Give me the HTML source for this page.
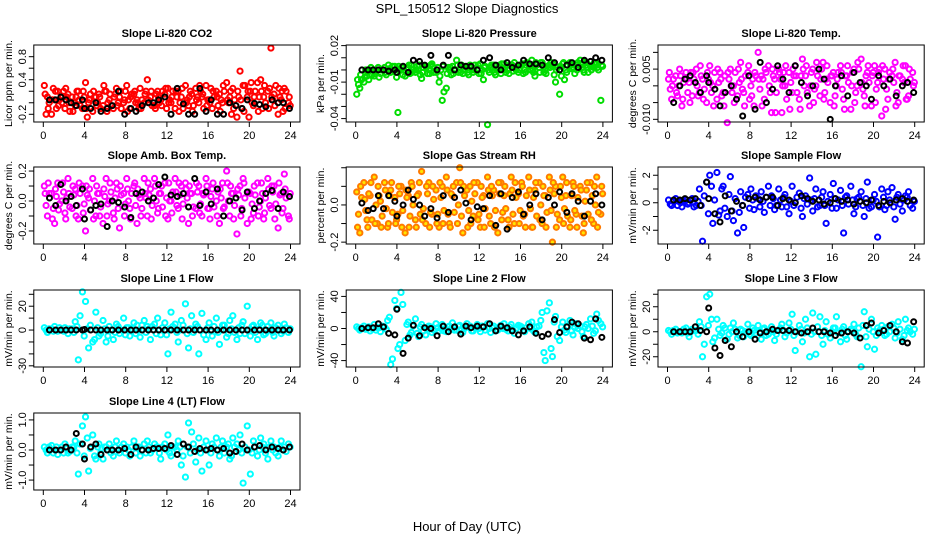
<!DOCTYPE html>
<html><head><meta charset="utf-8">
<style>
html,body{margin:0;padding:0;background:#fff;}
svg{display:block;font-family:"Liberation Sans",Arial,sans-serif;}
</style></head>
<body>
<svg id="chart" width="936" height="540" viewBox="0 0 936 540">
<text x="467" y="13" text-anchor="middle" font-size="13">SPL_150512  Slope Diagnostics</text>
<text x="467" y="531" text-anchor="middle" font-size="13">Hour of Day (UTC)</text>
</svg>
<script>
const hours = [0.1,0.4,0.8,1.1,1.4,1.8,2.1,2.4,2.8,3.1,3.4,3.8,4.1,4.4,4.8,5.1,5.4,5.8,6.1,6.4,6.8,7.1,7.4,7.8,8.1,8.4,8.8,9.1,9.4,9.8,10.1,10.4,10.8,11.1,11.4,11.8,12.1,12.4,12.8,13.1,13.4,13.8,14.1,14.4,14.8,15.1,15.4,15.8,16.1,16.4,16.8,17.1,17.4,17.8,18.1,18.4,18.8,19.1,19.4,19.8,20.1,20.4,20.8,21.1,21.4,21.8,22.1,22.4,22.8,23.1,23.4,23.8];
const blackHours = [0.6,1.2,1.7,2.2,2.7,3.2,3.8,4.0,4.6,5.1,5.6,6.2,6.7,7.3,7.9,8.5,9.0,9.6,10.2,10.7,11.2,11.8,12.4,13.0,13.6,14.1,14.7,15.2,15.8,16.3,16.9,17.5,18.1,18.7,19.3,19.8,20.5,21.0,21.6,22.2,22.8,23.3,23.9];
const xTicks = [0,4,8,12,16,20,24];

const co2A = [0.3,0.1,-0.2,0.05,0.2,0.0,-0.1,0.15,0.1,-0.05,0.2,-0.1,0.35,0.0,-0.15,0.1,0.15,-0.05,0.2,0.05,-0.1,0.25,0.1,0.0,0.3,-0.1,0.15,0.05,0.25,0.0,0.4,0.1,-0.05,0.2,0.05,0.15,0.25,0.0,-0.1,0.2,0.1,0.3,-0.05,0.15,0.25,0.0,0.1,0.3,0.05,-0.1,0.2,0.15,0.0,0.35,0.1,0.25,-0.25,0.55,0.3,0.1,0.2,-0.05,0.35,0.4,0.1,0.2,0.95,0.15,-0.2,0.05,0.25,0.0];
const co2B = [-0.2,0.0,0.25,-0.1,0.05,0.2,0.1,-0.15,0.0,0.2,-0.05,0.1,-0.25,0.15,0.1,0.0,-0.1,0.2,0.0,-0.05,0.15,0.0,-0.1,0.2,0.05,0.15,0.0,-0.1,0.05,0.2,0.0,-0.05,0.15,0.0,0.2,-0.1,0.05,0.2,0.1,0.0,-0.1,0.05,0.2,-0.05,0.1,0.2,-0.1,0.05,0.25,0.1,-0.05,0.05,0.2,0.0,-0.2,0.05,0.1,-0.1,0.3,-0.25,0.0,0.2,0.1,-0.1,0.0,0.25,0.05,0.3,0.1,-0.15,0.2,-0.05];
const co2C = [0.15,-0.1,0.05,0.2,-0.05,0.1,0.25,0.0,-0.15,0.1,0.05,0.2,-0.1,0.05,0.2,-0.05,0.1,0.3,-0.15,0.15,0.1,-0.05,0.2,0.05,-0.15,0.1,0.2,0.0,-0.1,0.15,0.05,0.2,-0.1,0.1,-0.05,0.25,0.0,0.1,0.2,-0.15,0.25,0.0,0.1,-0.15,0.05,0.3,0.15,-0.05,0.0,0.2,0.1,-0.15,0.3,0.05,0.2,-0.1,0.2,0.05,-0.15,0.2,0.35,0.1,-0.15,0.2,0.3,-0.1,0.1,-0.05,0.25,0.2,-0.1,0.1];
const co2K = [0.05,0.05,0.1,0.05,0.0,-0.05,0.05,-0.1,-0.1,0.0,-0.15,-0.1,-0.05,0.2,-0.2,-0.1,-0.15,-0.05,0.0,0.0,0.05,0.1,-0.2,0.25,-0.02,-0.2,-0.2,0.25,-0.15,0.05,-0.2,-0.2,0.0,-0.05,-0.1,0.05,-0.01,-0.03,-0.07,0.05,0.0,0.0,-0.1];

const presA = [-0.02,-0.015,-0.01,-0.005,0.0,-0.005,0.0,-0.003,0.002,0.0,-0.002,0.003,-0.035,0.0,-0.005,0.002,0.004,-0.002,0.0,-0.007,0.003,0.0,0.005,-0.002,-0.01,-0.025,-0.015,0.0,0.003,0.008,0.0,-0.003,0.002,0.004,-0.002,0.0,0.005,-0.008,-0.045,0.002,0.004,0.0,-0.003,0.005,0.0,0.003,0.006,-0.002,0.004,0.0,0.005,0.008,-0.005,0.002,0.006,0.0,0.004,0.003,-0.01,-0.02,0.005,0.0,0.006,0.002,0.004,0.008,0.0,0.006,0.003,0.002,0.005,-0.025];
const presB = [-0.012,-0.008,0.0,-0.008,-0.004,0.0,-0.006,0.0,-0.004,0.001,0.003,-0.006,0.001,-0.004,0.002,-0.003,0.0,0.003,-0.004,0.002,-0.003,0.004,-0.002,0.002,0.0,-0.018,0.002,-0.004,0.0,-0.002,0.004,0.0,-0.004,0.0,0.004,-0.003,0.0,0.003,-0.002,0.0,-0.004,0.004,0.001,-0.002,0.004,-0.001,0.0,0.004,-0.003,0.006,0.0,-0.002,0.004,0.006,-0.002,0.003,0.006,-0.004,0.002,-0.005,-0.008,0.004,0.001,-0.003,0.006,0.002,0.007,-0.002,0.004,0.006,0.0,0.003];
const presC = [-0.008,-0.004,-0.006,-0.002,0.002,-0.003,0.002,0.0,-0.002,0.004,0.0,-0.002,0.003,0.002,-0.002,0.004,-0.002,0.0,0.004,-0.002,0.002,-0.003,0.003,0.0,-0.005,0.003,-0.003,0.002,-0.003,0.004,-0.002,0.003,-0.002,0.002,0.0,0.004,-0.003,0.002,0.0,0.004,-0.002,0.002,0.005,0.0,-0.003,0.004,0.002,0.0,0.005,-0.002,0.003,0.0,0.006,-0.002,0.004,-0.003,0.002,0.005,0.0,0.003,0.006,-0.002,0.004,0.002,0.0,0.005,-0.002,0.004,0.0,0.006,0.002,0.004];
const presK = [0.0,0.0,0.0,0.0,0.0,-0.001,0.0,-0.002,0.003,-0.002,0.008,0.007,0.004,0.012,0.0,0.004,0.012,0.0,0.004,0.003,0.003,0.0,0.008,0.01,0.004,0.0,0.006,0.002,0.004,0.008,0.005,0.005,0.004,0.01,0.006,0.0,0.004,0.006,0.002,0.008,0.007,0.01,0.008];

const tempA = [0.002,-0.004,0.003,0.0,-0.006,0.004,0.001,-0.003,0.005,-0.002,0.002,-0.005,0.006,0.0,-0.004,0.004,-0.002,-0.011,0.005,0.0,-0.003,0.007,-0.002,0.004,0.0,-0.006,0.01,0.003,-0.004,0.006,-0.008,0.002,0.005,-0.008,0.0,0.004,-0.002,0.006,-0.004,0.008,0.003,-0.006,0.005,0.0,-0.003,0.007,0.002,-0.005,0.004,0.0,0.006,-0.004,0.003,-0.007,0.005,0.0,0.008,-0.003,0.004,-0.006,0.006,0.001,-0.009,0.005,-0.004,0.003,0.007,-0.005,0.002,0.006,-0.003,0.004];
const tempB = [-0.001,0.002,-0.003,0.003,0.001,-0.002,0.004,0.002,-0.003,0.003,-0.001,0.002,-0.002,0.004,0.001,-0.003,0.003,0.002,-0.002,0.004,0.001,-0.001,0.003,-0.004,0.002,0.003,-0.001,0.002,0.004,-0.002,0.003,-0.002,0.002,0.004,-0.004,0.001,0.003,-0.002,0.003,0.0,-0.002,0.004,-0.001,0.003,0.005,-0.002,0.001,0.003,-0.003,0.004,-0.001,0.003,0.001,0.004,-0.002,0.005,-0.001,0.003,0.001,0.004,-0.001,0.005,0.002,-0.001,0.004,0.001,-0.002,0.003,0.001,-0.004,0.002,0.001];
const tempC = [0.004,0.0,-0.002,0.005,-0.004,0.002,-0.005,0.004,0.0,0.006,-0.004,0.004,0.001,-0.006,0.005,0.002,-0.006,0.004,0.0,-0.005,0.005,0.002,-0.006,0.006,-0.003,0.004,0.002,-0.006,0.005,0.0,0.005,-0.008,0.004,0.0,0.006,-0.007,0.005,0.003,-0.007,0.005,0.006,0.0,-0.005,0.007,0.002,-0.004,0.006,0.003,-0.006,0.002,0.004,-0.007,0.006,0.0,-0.005,0.007,0.001,-0.006,0.006,0.003,-0.005,0.004,0.006,-0.007,0.002,0.005,-0.006,0.003,0.006,-0.004,0.005,0.0];
const tempK = [-0.005,0.0,0.002,0.003,0.001,-0.002,0.003,0.001,-0.001,-0.006,-0.002,0.0,-0.004,-0.009,0.003,-0.007,0.007,-0.005,-0.001,0.006,0.002,-0.002,0.006,0.001,-0.003,0.0,0.005,0.002,-0.01,0.0,0.003,-0.003,0.004,0.001,0.0,-0.004,0.003,0.0,0.002,-0.003,0.0,0.001,-0.002];

const ambA = [0.1,-0.1,0.05,-0.15,0.12,0.0,-0.08,0.15,-0.05,0.08,-0.12,0.1,-0.2,0.02,0.15,-0.1,0.05,-0.15,0.15,0.0,-0.08,0.12,-0.18,0.05,0.15,-0.05,0.1,-0.15,0.02,0.15,-0.1,0.08,0.15,-0.08,0.05,0.12,-0.12,0.0,0.15,-0.05,0.1,0.12,-0.15,0.05,-0.05,0.1,-0.1,0.15,-0.05,0.08,0.0,-0.15,0.12,0.2,-0.1,0.05,-0.22,0.1,0.15,-0.15,0.05,-0.08,0.12,0.0,-0.12,0.15,-0.05,0.1,-0.18,0.05,0.18,-0.1];
const ambB = [-0.03,0.05,-0.05,0.03,-0.02,0.06,0.02,-0.04,0.04,-0.03,0.05,-0.02,0.04,-0.06,0.0,0.05,-0.04,0.03,-0.02,0.06,0.02,-0.05,0.04,-0.02,0.0,0.05,-0.03,0.04,-0.05,0.02,0.04,-0.03,0.0,0.05,-0.04,0.02,0.0,0.06,-0.03,0.04,-0.02,0.02,0.05,-0.04,0.06,-0.02,0.04,-0.05,0.03,-0.04,0.06,0.02,-0.04,0.0,0.05,-0.03,0.04,-0.05,0.02,0.06,-0.02,0.04,-0.04,0.05,0.02,-0.03,0.06,-0.02,0.04,-0.05,0.02,0.05];
const ambC = [0.05,0.12,-0.12,0.08,-0.06,0.12,-0.12,0.05,0.1,-0.1,0.12,-0.08,0.1,0.08,-0.12,0.1,-0.1,0.08,-0.1,0.12,-0.12,0.08,0.1,-0.1,0.08,-0.12,0.12,0.08,-0.1,0.05,0.12,-0.12,0.1,-0.05,0.1,-0.1,0.12,-0.08,0.06,0.12,-0.12,0.08,0.1,-0.1,0.12,-0.08,0.05,0.1,-0.12,0.12,-0.1,0.08,-0.05,0.12,0.1,-0.12,0.08,-0.1,0.12,0.06,-0.12,0.1,-0.1,0.12,-0.08,0.08,0.1,-0.12,0.12,-0.08,0.08,-0.12];
const ambK = [0.02,-0.03,0.11,0.0,0.03,-0.03,0.08,-0.12,-0.06,-0.03,-0.02,-0.17,0.0,-0.01,-0.04,-0.11,0.05,0.06,0.0,0.02,0.11,0.16,0.04,0.03,0.05,-0.04,0.15,-0.03,0.06,-0.02,0.08,-0.1,0.0,0.02,-0.06,0.06,-0.05,0.0,0.05,0.07,-0.05,0.06,0.03];

const rhA = [0.07,-0.15,0.12,-0.08,0.05,0.15,-0.1,0.02,0.12,-0.12,0.08,0.04,-0.05,0.1,-0.15,0.05,0.12,-0.08,0.06,0.18,-0.1,0.12,-0.05,0.08,-0.12,0.1,0.15,-0.1,0.05,0.12,0.2,-0.15,0.08,0.1,-0.06,0.12,-0.12,0.05,0.15,-0.1,0.08,-0.15,0.12,0.05,-0.08,0.15,-0.1,0.06,0.12,-0.05,0.15,-0.12,0.08,0.12,-0.1,0.05,0.15,-0.2,0.1,-0.08,0.15,0.05,-0.12,0.12,-0.05,0.1,-0.15,0.08,0.12,-0.1,0.15,-0.05];
const rhB = [-0.05,0.04,-0.03,0.06,-0.08,0.0,0.05,-0.06,-0.02,0.05,-0.04,-0.08,0.06,-0.03,0.04,-0.06,0.0,0.05,-0.05,-0.02,0.06,-0.04,0.03,-0.05,0.04,-0.03,-0.05,0.06,-0.04,0.0,-0.06,0.05,-0.03,0.02,0.06,-0.05,0.04,-0.02,-0.06,0.05,-0.03,0.06,-0.04,-0.02,0.06,-0.05,0.04,-0.03,-0.06,0.05,-0.02,0.04,-0.06,0.0,0.05,-0.04,-0.03,0.06,-0.05,0.04,-0.02,-0.06,0.05,-0.03,0.04,-0.06,0.02,-0.05,0.05,0.0,-0.04,0.06];
const rhC = [-0.12,0.1,0.03,-0.12,0.12,-0.1,0.1,-0.12,0.08,-0.1,0.12,-0.1,0.1,-0.12,0.08,-0.12,0.1,-0.12,0.12,-0.08,0.1,-0.12,0.1,-0.1,0.12,-0.1,0.08,-0.12,0.1,-0.1,0.12,0.1,-0.12,-0.1,0.12,-0.08,0.1,-0.12,0.08,0.1,-0.12,0.12,-0.08,0.1,-0.12,0.08,0.12,-0.1,0.1,-0.12,0.08,-0.12,0.12,-0.08,0.1,-0.12,0.08,0.12,-0.12,0.1,-0.1,0.12,-0.08,0.1,-0.12,0.08,-0.1,0.12,-0.08,0.1,-0.12,0.1];
const rhK = [0.01,-0.03,-0.02,0.05,-0.02,0.05,0.02,-0.06,0.0,0.08,0.03,0.0,-0.06,-0.02,-0.07,0.05,-0.04,0.04,0.08,0.01,-0.08,-0.01,-0.02,0.05,-0.11,0.06,-0.13,0.04,0.07,-0.05,0.0,0.06,-0.08,0.04,0.0,0.07,-0.04,0.06,0.02,-0.06,0.02,0.06,0.0];

const sflA = [0.2,-0.2,0.3,0.1,-0.3,0.2,0.0,0.3,-0.2,1.0,-2.8,1.5,2.0,-1.5,2.2,-0.6,1.2,-1.0,1.9,-1.3,-2.2,0.8,-1.8,0.6,1.0,-0.5,0.3,0.8,-0.7,1.2,0.5,-0.5,1.0,-0.3,0.6,-0.8,1.2,0.0,0.7,-1.0,0.5,1.8,-0.6,1.0,-0.2,0.8,-1.5,0.6,1.4,-0.4,0.9,-2.2,0.5,1.2,-0.8,0.3,0.8,-1.0,1.5,-0.3,0.6,-2.5,1.0,-0.5,0.8,1.1,-1.2,0.6,-0.6,0.5,0.8,-0.4];
const sflB = [-0.1,0.1,-0.2,0.0,0.1,-0.1,0.2,-0.3,0.1,-0.2,0.5,-0.8,1.2,0.2,-0.9,1.0,-0.4,0.6,-0.6,0.3,-0.7,-0.2,0.4,-0.4,0.2,0.5,-0.3,0.1,0.4,-0.2,0.3,-0.2,0.2,0.4,-0.3,0.1,-0.2,0.4,-0.4,0.3,-0.1,0.2,0.3,-0.3,0.4,-0.2,0.1,-0.4,0.3,0.2,-0.2,0.4,-0.1,0.2,-0.3,0.4,-0.2,0.3,-0.4,0.2,0.1,-0.3,0.4,-0.2,0.2,-0.3,0.4,-0.1,0.2,0.4,-0.2,0.1];
const sflK = [0.2,0.2,0.3,0.2,0.3,-0.2,1.5,0.3,-0.8,-1.4,0.5,-0.6,0.1,-0.2,0.3,0.4,0.2,0.4,0.4,-0.2,0.3,0.2,0.0,0.5,0.3,0.1,0.2,-0.1,0.0,0.3,0.1,0.2,-0.1,0.1,0.0,0.2,-0.2,0.1,0.0,0.2,0.3,0.1,0.2];

const l1A = [2,-2,1,3,-1,0,2,-3,1,7,-25,32,24,-15,-10,15,-5,8,-10,3,-8,5,-3,10,2,-5,6,4,-6,8,3,-8,5,10,-4,6,-20,15,5,-10,8,22,-15,12,5,-20,14,-8,6,-5,10,-12,4,-6,8,12,-8,-3,7,20,-5,4,-8,6,-4,3,6,-5,4,-3,5,-2];
const l1B = [0,1,-1,0,2,-1,0,1,-2,3,12,-5,1,4,-8,2,-3,1,-5,0,-2,3,0,-4,2,1,-3,0,4,-2,1,3,-3,0,2,-4,1,3,-2,0,4,-3,1,-2,3,0,-4,2,-1,3,-2,0,4,-3,1,-2,2,4,-3,0,3,-2,1,4,-3,0,-2,2,0,-1,2,1];
const l1K = [0,0,0,0,0,0,0,0.5,0,0,0,0,0,0,0,0,0,0,0,0,0,0,0,0,0,0,0,0,0,0,0,0,0,0,0,0,0,0,0,0,0,0,0];

const l2A = [2,-2,3,0,-3,5,1,-4,2,10,-45,35,-25,45,-15,8,-5,12,-10,5,-8,3,-5,6,-3,5,-4,3,7,-2,4,-5,6,3,-3,5,-4,2,6,-5,3,-2,4,6,-3,5,-6,4,2,-4,6,8,-5,3,20,-40,32,-35,15,-15,8,-5,10,-8,6,3,-10,5,12,-6,18,6];
const l2B = [0,1,-1,2,0,-2,1,3,-1,14,-38,25,-20,30,5,-8,3,-6,2,-3,0,2,-2,1,0,-3,2,0,-2,3,-1,0,2,-3,1,0,3,-2,0,1,-3,2,0,-1,2,-2,0,3,-2,1,0,-3,2,10,-30,22,-25,8,-10,2,-2,3,-3,1,0,-4,2,0,3,-3,10,2];
const l2K = [0,1,1,6,2,-6,-8,24,-31,-12,4,-9,1,0,-9,3,-4,2,-7,3,1,3,2,6,-3,3,1,-3,-8,-3,2,-6,-10,-7,11,-5,2,8,6,-12,-14,12,-11];

const l3A = [1,-2,2,0,-1,3,-4,2,1,8,-20,28,30,-8,10,-3,5,-6,3,7,-5,2,-4,6,-3,1,5,-6,3,-2,4,-7,1,6,-4,7,14,-15,5,-8,10,-20,15,-18,12,-10,8,-5,3,12,-8,4,-6,2,6,-4,-28,16,-12,10,-14,3,5,-3,4,6,-5,8,-6,10,3,-2];
const l3B = [0,1,-1,0,2,-1,0,1,-2,4,-10,5,10,-5,2,-1,3,-2,0,2,-3,1,0,-2,3,-1,0,2,-3,1,0,-2,3,1,-1,2,-3,0,2,-1,3,-2,0,4,-3,1,-2,0,3,-1,2,-3,0,1,-2,3,5,-4,2,0,-3,1,2,-2,0,3,-1,2,-3,1,0,2];
const l3K = [0,0,0,0,4,1,0,19,-13,-19,-7,-12,0,-4,0,-6,-1,0,2,1,1,1,0,-1,0,3,0,0,-1,-3,-1,0,-1,-5,5,7,-1,1,5,0,-8,-9,8];

const l4A = [0.1,-0.1,0.15,0.0,-0.15,0.1,0.2,-0.1,0.1,0.3,-0.8,0.8,1.1,-0.7,0.5,-0.3,0.2,-0.3,0.1,0.2,-0.2,0.3,-0.1,0.2,0.1,-0.2,0.3,0.1,-0.2,0.2,0.3,-0.1,0.2,0.1,-0.3,0.2,0.5,-0.2,0.1,0.3,-0.5,-0.9,0.9,0.6,-0.4,0.4,-0.7,0.3,-0.5,0.2,0.4,-0.2,0.3,0.1,-0.3,0.4,0.2,0.5,-1.1,0.8,-0.8,0.3,-0.2,0.4,0.2,-0.3,0.3,0.1,-0.2,0.3,0.1,0.2];
const l4B = [0.0,0.1,-0.1,0.1,0.0,-0.1,0.1,-0.05,0.1,-0.1,0.2,-0.2,0.4,0.05,-0.2,0.1,-0.1,0.1,0.0,-0.1,0.1,0.0,0.1,-0.1,0.0,0.1,-0.1,0.1,0.0,-0.1,0.1,0.0,0.1,-0.1,0.1,0.0,-0.1,0.1,0.0,0.1,-0.2,0.1,-0.1,0.2,0.0,-0.1,0.1,0.0,-0.1,0.1,0.0,0.1,-0.1,0.2,-0.2,0.1,0.0,-0.1,0.1,0.0,-0.1,0.1,0.0,0.1,-0.1,0.1,0.0,-0.1,0.1,0.0,-0.05,0.1];
const l4K = [0.0,0.0,0.0,0.1,0.0,0.55,0.2,-0.3,0.1,0.2,-0.15,0.0,0.0,0.0,0.05,-0.15,0.1,0.0,0.0,0.05,0.05,0.05,0.15,-0.15,0.2,0.1,-0.05,0.05,0.0,0.05,0.0,0.05,-0.1,-0.05,0.2,0.0,0.1,0.15,0.0,0.1,0.05,0.0,0.1];

const panelTitles = ["Slope Li-820 CO2","Slope Li-820 Pressure","Slope Li-820 Temp.","Slope Amb. Box Temp.","Slope Gas Stream RH","Slope Sample Flow","Slope Line 1 Flow","Slope Line 2 Flow","Slope Line 3 Flow","Slope Line 4 (LT) Flow"];
const yTitles = ["Licor ppm per min.","kPa per min.","degrees C per min.","degrees C per min.","percent per min.","mV/min per min.","mV/min per min.","mV/min per min.","mV/min per min.","mV/min per min."];
const yTicks = [[-0.2,0,0.2,0.4,0.6,0.8],[-0.04,-0.03,-0.02,-0.01,0,0.01,0.02],[-0.01,-0.005,0,0.005,0.01],[-0.2,-0.1,0,0.1,0.2],[-0.2,-0.1,0,0.1,0.2],[-2,-1,0,1,2],[-30,-20,-10,0,10,20,30],[-40,-20,0,20,40],[-20,-10,0,10,20,30],[-1,-0.5,0,0.5,1]];
const yLabelVals = [[-0.2,0.4,0.8],[-0.04,-0.01,0.02],[-0.01,0.005],[-0.2,0,0.2],[-0.2,0],[-2,0,2],[-30,0,20],[-40,0,40],[-20,0,20],[-1,0,1]];
const yLabelText = [["-0.2","0.4","0.8"],["-0.04","-0.01","0.02"],["-0.010","0.005"],["-0.2","0.0","0.2"],["-0.2","0.0"],["-2","0","2"],["-30","0","20"],["-40","0","40"],["-20","0","20"],["-1.0","0.0","1.0"]];
const yLimits = [[-0.334,1.003],[-0.0428,0.0205],[-0.0108,0.0122],[-0.287,0.227],[-0.21,0.204],[-3.0,2.6],[-31,33.6],[-48,48],[-28.2,33.4],[-1.33,1.23]];
const seriesA = [co2A,presA,tempA,ambA,rhA,sflA,l1A,l2A,l3A,l4A];
const seriesB = [co2B,presB,tempB,ambB,rhB,sflB,l1B,l2B,l3B,l4B];
const seriesC = [co2C,presC,tempC,ambC,rhC,[],[],[],[],[]];
const seriesK = [co2K,presK,tempK,ambK,rhK,sflK,l1K,l2K,l3K,l4K];
const strokes = ["#ff0000","#00dd00","#ff00ff","#ff00ff","#ff7a00","#0000ff","#00ffff","#00ffff","#00ffff","#00ffff"];
const fills = ["none","none","none","none","#ffe600","none","none","none","none","none"];

const NS = "http://www.w3.org/2000/svg";
const svg = document.getElementById("chart");
const colX0 = [43.3, 355.7, 667.5];
const rowTop = [45, 167, 290, 413];
const PXH = 10.3, BOXH = 77;
function mk(tag, attrs, parent){const e=document.createElementNS(NS,tag);for(const k in attrs)e.setAttribute(k,attrs[k]);(parent||svg).appendChild(e);return e;}

for(let p=0;p<10;p++){
  const col=p%3,row=Math.floor(p/3);
  const x0=colX0[col], top=rowTop[row], bot=top+BOXH;
  const left=x0-9.5, right=x0+24*PXH+9.5;
  const [ymin,ymax]=yLimits[p];
  const xs=h=>x0+h*PXH;
  const ys=v=>bot-(v-ymin)/(ymax-ymin)*BOXH;
  const g=mk("g",{});
  
  
  const t=mk("text",{x:(left+right)/2,y:top-8,"text-anchor":"middle","font-size":"11","font-weight":"bold"},g);
  t.textContent=panelTitles[p];
  
  
  const yt=mk("text",{transform:`translate(${left-22},${(top+bot)/2}) rotate(-90)`,"text-anchor":"middle","font-size":"10.5"},g);
  yt.textContent=yTitles[p];
  
  
  const pts=mk("g",{fill:fills[p],stroke:strokes[p],"stroke-width":"2"},g);
  
  
  [[seriesA[p],0],[seriesB[p],0.17],[seriesC[p],0.08]].forEach(([arr,off])=>{
    const n=Math.min(arr.length,hours.length);
    for(let i=0;i<n;i++){
      const c=mk("circle",{cx:xs(hours[i]+off),cy:ys(arr[i]),r:2.6},pts);
      
      
    }
  });
  const kp=mk("g",{fill:"none",stroke:"#000","stroke-width":"2"},g);
  
  
  const kn=Math.min(seriesK[p].length,blackHours.length);
  for(let i=0;i<kn;i++){
    const c=mk("circle",{cx:xs(blackHours[i]),cy:ys(seriesK[p][i]),r:2.5},kp);
    
    
  }
  const box=mk("rect",{x:left,y:top,width:right-left,height:BOXH,fill:"none",stroke:"#000","stroke-width":"1"},g);
  
  
  xTicks.forEach(v=>{
    const l=mk("line",{x1:xs(v),x2:xs(v),y1:bot,y2:bot+5,stroke:"#000"},g);
    
    
    const tx=mk("text",{x:xs(v),y:bot+17,"text-anchor":"middle","font-size":"11"},g);
    tx.textContent=String(v);
    
    
  });
  yTicks[p].forEach(v=>{
    const l=mk("line",{x1:left-5,x2:left,y1:ys(v),y2:ys(v),stroke:"#000"},g);
    
    
  });
  yLabelVals[p].forEach((v,i)=>{
    const tx=mk("text",{transform:`translate(${left-8},${ys(v)}) rotate(-90)`,"text-anchor":"middle","font-size":"11"},g);
    tx.textContent=yLabelText[p][i];
    
    
  });
}
</script>
</body></html>
